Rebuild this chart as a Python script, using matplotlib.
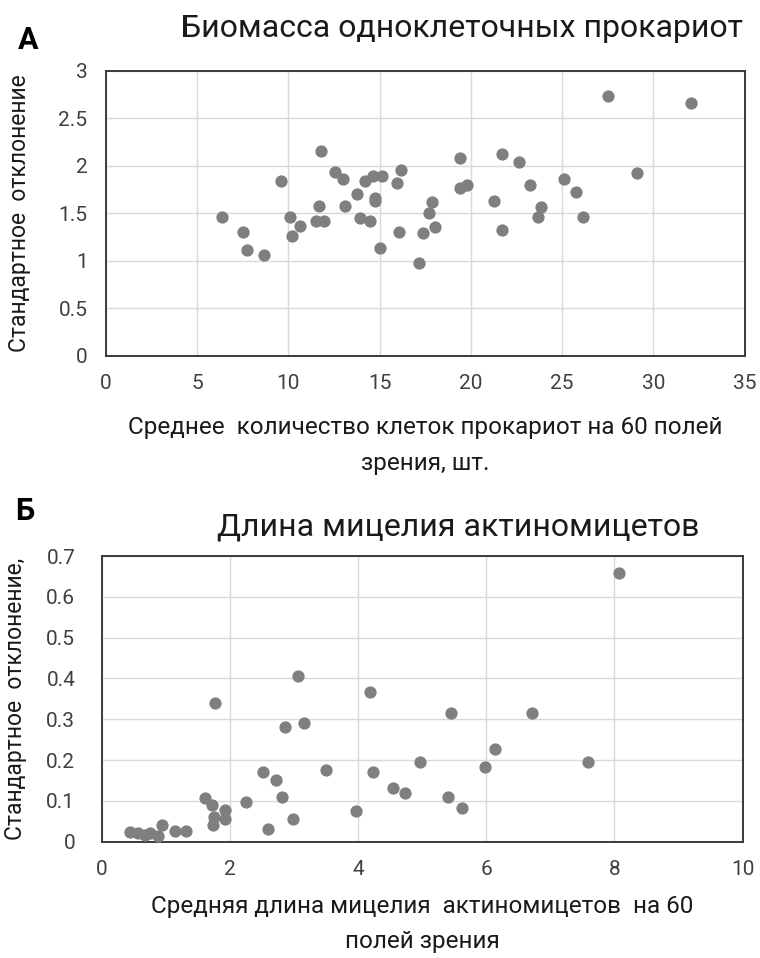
import matplotlib
matplotlib.use("Agg")
import matplotlib.pyplot as plt

plt.rcParams['font.family'] = ['Roboto', 'DejaVu Sans']

# panel A: prokaryote cell counts vs standard deviation
cells_mean = [6.36, 7.51, 7.75, 8.67, 9.62, 10.11, 10.2, 10.62, 11.78, 11.71,
              11.51, 11.98, 12.58, 13.02, 13.09, 13.75, 14.18, 14.65, 15.14, 13.94,
              14.49, 14.76, 14.76, 15.0, 16.2, 15.93, 16.07, 17.15, 17.37, 17.87,
              17.73, 18.02, 19.38, 19.38, 19.78, 21.71, 22.66, 21.29, 21.71, 23.24,
              23.82, 23.66, 25.11, 25.78, 26.13, 27.51, 32.06, 29.09]
cells_sd = [1.46, 1.305, 1.11, 1.055, 1.84, 1.46, 1.265, 1.365, 2.16, 1.575,
            1.415, 1.415, 1.935, 1.855, 1.58, 1.70, 1.835, 1.895, 1.895, 1.445,
            1.42, 1.665, 1.63, 1.135, 1.95, 1.82, 1.305, 0.975, 1.295, 1.615,
            1.50, 1.35, 2.085, 1.77, 1.795, 2.12, 2.035, 1.63, 1.32, 1.80,
            1.565, 1.465, 1.865, 1.725, 1.465, 2.735, 2.665, 1.92]

# panel B: actinomycete mycelium length vs standard deviation
myc_mean = [0.44, 0.56, 0.67, 0.75, 0.88, 0.94, 1.14, 1.32, 1.61, 1.72,
            1.77, 1.756, 1.74, 1.924, 1.924, 2.254, 2.52, 2.715, 2.814, 2.589,
            2.856, 2.981, 3.07, 3.154, 3.505, 3.966, 4.19, 4.238, 4.547, 4.73,
            4.966, 5.453, 5.406, 5.615, 5.987, 6.133, 6.72, 7.594, 8.076]
myc_sd = [0.023, 0.022, 0.017, 0.022, 0.014, 0.04, 0.025, 0.025, 0.106, 0.09,
          0.341, 0.061, 0.041, 0.078, 0.055, 0.097, 0.172, 0.15, 0.11, 0.032,
          0.282, 0.055, 0.405, 0.292, 0.175, 0.074, 0.366, 0.172, 0.132, 0.119,
          0.195, 0.315, 0.11, 0.083, 0.184, 0.227, 0.315, 0.195, 0.659]

dot_color = "#7f7f7f"
grid_color = "#d9d9d9"
tick_color = "#404040"
text_color = "#1a1a1a"

fig = plt.figure(figsize=(7.6, 9.58), dpi=100)
ax1 = fig.add_axes([0.139, 0.6287, 0.841, 0.2975])
ax2 = fig.add_axes([0.1338, 0.1214, 0.8434, 0.2982])


def style(ax):
    ax.grid(True, color=grid_color, linewidth=1.0)
    ax.set_axisbelow(True)
    for s in ax.spines.values():
        s.set_color("#3a3a3a")
        s.set_linewidth(1.4)
    ax.tick_params(length=0, labelsize=15, labelcolor=tick_color)


ax1.scatter(cells_mean, cells_sd, s=78, color=dot_color, zorder=3, linewidths=0)
ax1.set_xlim(0, 35)
ax1.set_ylim(0, 3)
ax1.set_xticks(range(0, 36, 5))
ax1.set_yticks([0, 0.5, 1, 1.5, 2, 2.5, 3])
ax1.set_yticklabels(["0", "0.5", "1", "1.5", "2", "2.5", "3"])
style(ax1)
ax1.tick_params(axis='x', pad=13)
ax1.tick_params(axis='y', pad=13)
ax1.set_xlabel("Среднее  количество клеток прокариот на 60 полей\nзрения, шт.",
               fontsize=17.5, color=text_color, labelpad=17, linespacing=1.7)
ax1.set_ylabel("Стандартное  отклонение", fontsize=16.5, color=text_color, labelpad=20)

ax2.scatter(myc_mean, myc_sd, s=78, color=dot_color, zorder=3, linewidths=0)
ax2.set_xlim(0, 10)
ax2.set_ylim(0, 0.7)
ax2.set_xticks(range(0, 11, 2))
ax2.set_yticks([0, 0.1, 0.2, 0.3, 0.4, 0.5, 0.6, 0.7])
ax2.set_yticklabels(["0", "0.1", "0.2", "0.3", "0.4", "0.5", "0.6", "0.7"])
style(ax2)
ax2.tick_params(axis='x', pad=13)
ax2.tick_params(axis='y', pad=19)
ax2.set_xlabel("Средняя длина мицелия  актиномицетов  на 60\nполей зрения",
               fontsize=17.5, color=text_color, labelpad=12, linespacing=1.65)
ax2.set_ylabel("Стандартное  отклонение,", fontsize=16.5, color=text_color, labelpad=14)

fig.text(0.608, 0.9705, "Биомасса одноклеточных прокариот", fontsize=23,
         color=text_color, ha="center", va="center")
fig.text(0.603, 0.4495, "Длина мицелия актиномицетов", fontsize=23,
         color=text_color, ha="center", va="center")
fig.text(0.037, 0.9585, "А", fontsize=22, fontweight="bold", color="black",
         ha="center", va="center")
fig.text(0.033, 0.4665, "Б", fontsize=22, fontweight="bold", color="black",
         ha="center", va="center")

fig.savefig("out.png", dpi=100)
